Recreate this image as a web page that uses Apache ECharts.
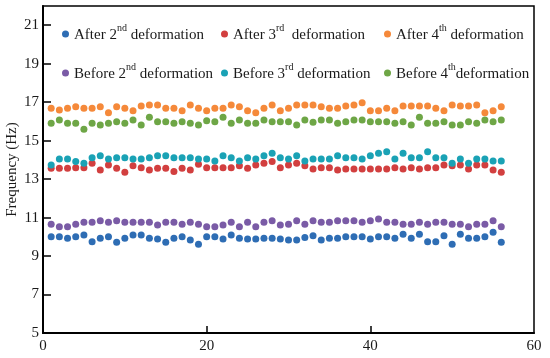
<!DOCTYPE html>
<html>
<head>
<meta charset="utf-8">
<script src="https://cdn.jsdelivr.net/npm/echarts@6/dist/echarts.min.js"></script>
<style>
html,body{margin:0;padding:0;background:#fff;}
#chart{width:550px;height:358px;}
</style>
</head>
<body>
<div id="chart"></div>
<script>
// Measurement index 1..56
var idx = [];
for (var k = 1; k <= 56; k++) idx.push(k);

var after2 = [10.01,10.01,9.93,10.01,10.10,9.75,9.93,10.01,9.72,9.93,10.10,10.10,9.93,9.89,9.72,9.93,10.01,9.84,9.62,10.01,10.01,9.89,10.10,9.93,9.89,9.89,9.93,9.93,9.89,9.84,9.84,9.96,10.06,9.84,9.93,9.93,10.01,10.01,10.01,9.89,10.01,10.01,9.93,10.14,9.93,10.14,9.75,9.75,10.06,9.62,10.14,9.93,9.93,10.01,10.24,9.72];
var after3 = [13.56,13.56,13.56,13.59,13.59,13.82,13.47,13.73,13.56,13.36,13.70,13.59,13.47,13.56,13.56,13.39,13.56,13.47,13.77,13.59,13.59,13.59,13.59,13.70,13.56,13.73,13.82,13.91,13.59,13.73,13.82,13.70,13.53,13.59,13.59,13.47,13.53,13.53,13.53,13.53,13.53,13.53,13.59,13.53,13.59,13.53,13.59,13.59,13.73,13.70,13.73,13.53,13.73,13.73,13.47,13.36];
var after4 = [16.68,16.59,16.68,16.76,16.68,16.68,16.76,16.45,16.76,16.68,16.55,16.80,16.85,16.85,16.68,16.68,16.55,16.85,16.68,16.55,16.68,16.68,16.85,16.76,16.55,16.45,16.68,16.85,16.55,16.68,16.85,16.85,16.85,16.76,16.68,16.68,16.80,16.85,16.97,16.55,16.55,16.68,16.55,16.80,16.80,16.80,16.80,16.68,16.55,16.85,16.80,16.80,16.85,16.45,16.55,16.76];
var before2 = [10.66,10.53,10.53,10.66,10.76,10.76,10.83,10.76,10.83,10.76,10.76,10.76,10.76,10.62,10.76,10.76,10.66,10.76,10.66,10.53,10.53,10.62,10.76,10.53,10.76,10.53,10.76,10.83,10.62,10.66,10.83,10.66,10.83,10.76,10.76,10.83,10.83,10.83,10.76,10.83,10.93,10.76,10.76,10.66,10.66,10.76,10.66,10.76,10.76,10.66,10.66,10.53,10.66,10.66,10.83,10.53];
var before3 = [13.73,14.05,14.05,13.91,13.82,14.11,14.22,14.05,14.11,14.11,14.05,14.05,14.11,14.22,14.22,14.11,14.11,14.11,14.05,14.05,13.94,14.22,14.11,13.94,14.11,14.05,14.22,14.34,14.11,14.05,14.22,13.94,14.05,14.05,14.05,14.22,14.11,14.11,14.05,14.22,14.34,14.42,14.05,14.34,14.11,14.11,14.42,14.11,14.11,13.82,14.05,13.82,14.05,14.05,13.94,13.94];
var before4 = [15.90,16.07,15.90,15.90,15.59,15.90,15.81,15.90,15.98,15.90,16.07,15.81,16.21,15.98,15.98,15.90,15.98,15.90,15.81,16.03,15.98,16.21,15.90,16.07,15.90,15.90,16.07,15.98,15.98,15.98,15.81,16.07,15.95,16.07,16.07,15.90,15.98,16.07,16.07,15.98,15.98,15.98,15.90,15.98,15.81,16.21,15.90,15.90,15.98,15.81,15.81,15.98,15.90,16.07,15.98,16.07];

var yTicks = [5,7,9,11,13,15,17,19,21];
var xTicks = [0,20,40,60];

var seriesNames = ['After 2nd deformation','After 3rd deformation','After 4th deformation',
                   'Before 2nd deformation','Before 3rd deformation','Before 4th deformation'];
var legendRich = {
  'After 2nd deformation':  '{t|After 2}{s|nd}{t| deformation}',
  'After 3rd deformation':  '{t|After 3}{s|rd}{t|  deformation}',
  'After 4th deformation':  '{t|After 4}{s|th}{t| deformation}',
  'Before 2nd deformation': '{t|Before 2}{s|nd}{t| deformation}',
  'Before 3rd deformation': '{t|Before 3}{s|rd}{t| deformation}',
  'Before 4th deformation': '{t|Before 4}{s|th}{t|deformation}'
};
var colors = ['#2e6db4','#d23f3f','#f5893a','#7a5ba6','#1aa2b5','#6ea646'];
var seriesData = [after2, after3, after4, before2, before3, before4];

function pairs(arr){ return arr.map(function(v,i){ return [idx[i], v]; }); }

var FONT = 'Liberation Serif';
function mkLegend(names, left){
  return {
    orient: 'vertical', left: left, top: 18, itemGap: 19,
    icon: 'circle', itemWidth: 7, itemHeight: 7,
    data: names,
    selectedMode: false,
    formatter: function(n){ return legendRich[n]; },
    textStyle: {
      fontFamily: FONT, fontSize: 15, color: '#1a1a1a',
      rich: {
        t: {fontFamily: FONT, fontSize: 15, color: '#1a1a1a', lineHeight: 18, verticalAlign: 'bottom'},
        s: {fontFamily: FONT, fontSize: 10, color: '#1a1a1a', lineHeight: 10, verticalAlign: 'bottom', padding: [0, 0, 10, 0]}
      }
    }
  };
}

var chart = echarts.init(document.getElementById('chart'), null, {renderer: 'canvas'});
chart.setOption({
  animation: false,
  color: colors,
  grid: {left: 43, right: 16, top: 6, bottom: 25, show: true, borderColor: '#000', borderWidth: 1.5,
         containLabel: false, outerBoundsMode: 'none'},
  legend: [
    mkLegend([seriesNames[0], seriesNames[3]], 57),
    mkLegend([seriesNames[1], seriesNames[4]], 216),
    mkLegend([seriesNames[2], seriesNames[5]], 379)
  ],
  xAxis: {
    type: 'value', min: 0, max: 60, interval: 20,
    axisLine: {show: true, lineStyle: {color: '#000', width: 2}},
    axisTick: {show: true, inside: true, length: 7, lineStyle: {color: '#000', width: 1.5}, customValues: [20, 40]},
    axisLabel: {fontFamily: FONT, fontSize: 15, color: '#1a1a1a', margin: 6, customValues: xTicks},
    splitLine: {show: false}
  },
  yAxis: {
    type: 'value', min: 5, max: 22,
    name: 'Frequency (Hz)', nameLocation: 'middle', nameGap: 23, nameMoveOverlap: false,
    nameTextStyle: {fontFamily: FONT, fontSize: 15, color: '#1a1a1a'},
    axisLine: {show: true, lineStyle: {color: '#000', width: 2}},
    axisTick: {show: true, inside: true, length: 8, lineStyle: {color: '#000', width: 1.5}, customValues: yTicks.slice(1)},
    axisLabel: {fontFamily: FONT, fontSize: 15, color: '#1a1a1a', margin: 4, customValues: yTicks},
    splitLine: {show: false}
  },
  series: seriesNames.map(function(n, i){
    return {
      name: n, type: 'scatter', symbol: 'circle', symbolSize: 7,
      itemStyle: {color: colors[i], opacity: 1},
      data: pairs(seriesData[i])
    };
  })
});
</script>
</body>
</html>
